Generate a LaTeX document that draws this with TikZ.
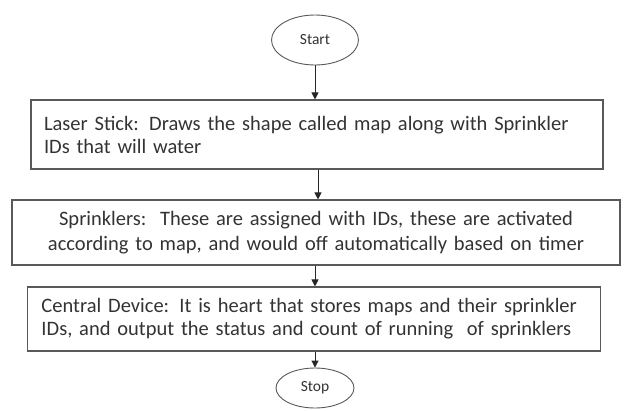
\documentclass[tikz,border=0pt]{standalone}
\usepackage{fontspec}
\setmainfont{Carlito}
\usetikzlibrary{shapes.geometric,arrows.meta}
\begin{document}
\begin{tikzpicture}[x=1pt,y=-1pt,
  every node/.style={text=black!80},
  box/.style={draw=black!65, line width=1.1pt, rectangle, inner sep=0pt, font=\fontsize{20.5}{23}\selectfont},
  term/.style={draw=black!65, line width=0.9pt, ellipse, inner sep=0pt, font=\fontsize{15.5}{18}\selectfont},
  arr/.style={draw=black!85, line width=1pt, -{Triangle[length=7pt,width=7pt]}}]
\useasboundingbox (0,0) rectangle (624,410);
\node[term, minimum width=87pt, minimum height=50pt] (start) at (315,40) {Start};
\node[box, minimum width=572pt, minimum height=69pt, text width=546pt, align=left] (b1) at (317,134.5)
  {Laser Stick: Draws the shape called map along with Sprinkler\\IDs that will water};
\node[box, minimum width=608pt, minimum height=65pt, text width=604pt, align=center, font=\fontsize{20.5}{25}\selectfont] (b2) at (316,232.5)
  {Sprinklers:\ \ These are assigned with IDs, these are activated\\according to map, and would off automatically based on timer};
\node[box, minimum width=573pt, minimum height=64pt, text width=545pt, align=left] (b3) at (314,319)
  {Central Device: It is heart that stores maps and their sprinkler\\IDs, and output the status and count of running\ \ of sprinklers};
\node[term, minimum width=78pt, minimum height=40pt] (stop) at (315,388) {Stop};
\draw[arr] (start.south) -- (start.south |- b1.north);
\draw[arr] (b1.south -| 318,0) -- (b2.north -| 318,0);
\draw[arr] (b2.south -| 315,0) -- (b3.north -| 315,0);
\draw[arr] (b3.south -| 315,0) -- (stop.north);
\end{tikzpicture}
\end{document}
